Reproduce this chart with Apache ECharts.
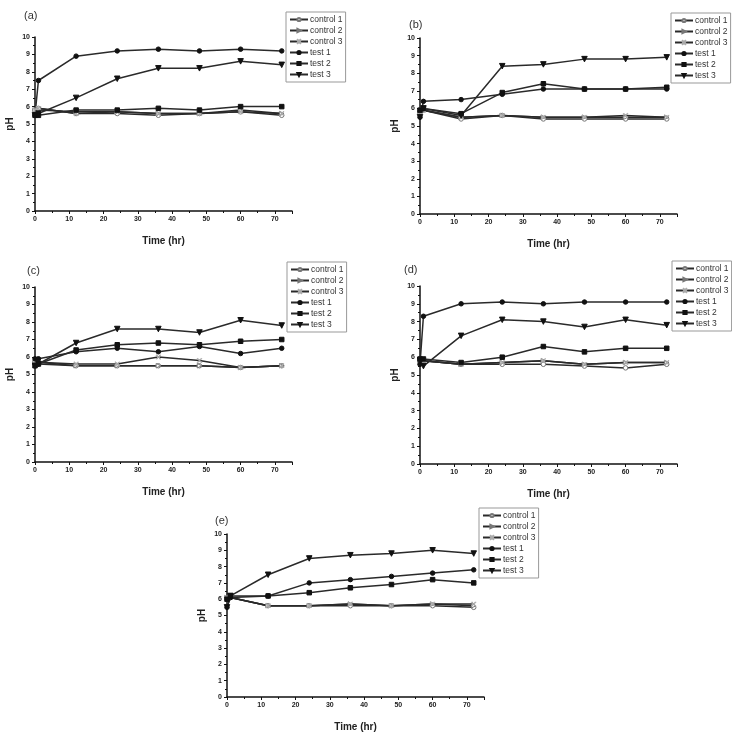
<!DOCTYPE html>
<html>
<head>
<meta charset="UTF-8">
<title>pH vs time</title>
<style>
html, body { margin: 0; padding: 0; width: 100%; height: 100%; background: #fff; }
#main { width: 732px; height: 733px; }
</style>
<script src="https://cdn.jsdelivr.net/npm/echarts@6/dist/echarts.min.js"></script>
</head>
<body>
<div id="main"></div>
<script type="text/javascript">
// sampling times (hr)
var timeHr = [0, 1, 12, 24, 36, 48, 60, 72];
var seriesNames = ['control 1', 'control 2', 'control 3', 'test 1', 'test 2', 'test 3'];
var panelLabels = ['(a)', '(b)', '(c)', '(d)', '(e)'];
var yTicks = [0, 1, 2, 3, 4, 5, 6, 7, 8, 9, 10];

// (a)
var a_control1 = [5.8, 5.9, 5.6, 5.6, 5.5, 5.6, 5.7, 5.5];
var a_control2 = [5.8, 5.8, 5.7, 5.7, 5.6, 5.6, 5.8, 5.6];
var a_control3 = [5.8, 5.9, 5.6, 5.7, 5.6, 5.6, 5.7, 5.6];
var a_test1 = [5.5, 7.5, 8.9, 9.2, 9.3, 9.2, 9.3, 9.2];
var a_test2 = [5.5, 5.5, 5.8, 5.8, 5.9, 5.8, 6.0, 6.0];
var a_test3 = [5.5, 5.6, 6.5, 7.6, 8.2, 8.2, 8.6, 8.4];
// (b)
var b_control1 = [5.8, 5.9, 5.4, 5.6, 5.4, 5.4, 5.4, 5.4];
var b_control2 = [5.8, 5.9, 5.5, 5.6, 5.5, 5.5, 5.5, 5.5];
var b_control3 = [5.8, 5.9, 5.5, 5.6, 5.5, 5.5, 5.6, 5.5];
var b_test1 = [5.5, 6.4, 6.5, 6.8, 7.1, 7.1, 7.1, 7.1];
var b_test2 = [5.9, 6.0, 5.7, 6.9, 7.4, 7.1, 7.1, 7.2];
var b_test3 = [5.5, 6.0, 5.6, 8.4, 8.5, 8.8, 8.8, 8.9];
// (c)
var c_control1 = [5.6, 5.6, 5.5, 5.5, 5.5, 5.5, 5.4, 5.5];
var c_control2 = [5.7, 5.7, 5.5, 5.5, 5.5, 5.5, 5.4, 5.5];
var c_control3 = [5.7, 5.7, 5.6, 5.6, 6.0, 5.8, 5.4, 5.5];
var c_test1 = [5.9, 5.9, 6.3, 6.5, 6.3, 6.6, 6.2, 6.5];
var c_test2 = [5.5, 5.6, 6.4, 6.7, 6.8, 6.7, 6.9, 7.0];
var c_test3 = [5.5, 5.6, 6.8, 7.6, 7.6, 7.4, 8.1, 7.8];
// (d)
var d_control1 = [5.8, 5.8, 5.6, 5.6, 5.6, 5.5, 5.4, 5.6];
var d_control2 = [5.8, 5.8, 5.6, 5.7, 5.8, 5.6, 5.7, 5.7];
var d_control3 = [5.8, 5.8, 5.6, 5.7, 5.8, 5.6, 5.7, 5.7];
var d_test1 = [5.6, 8.3, 9.0, 9.1, 9.0, 9.1, 9.1, 9.1];
var d_test2 = [5.9, 5.9, 5.7, 6.0, 6.6, 6.3, 6.5, 6.5];
var d_test3 = [5.8, 5.5, 7.2, 8.1, 8.0, 7.7, 8.1, 7.8];
// (e)
var e_control1 = [6.1, 6.1, 5.6, 5.6, 5.6, 5.6, 5.6, 5.5];
var e_control2 = [6.1, 6.1, 5.6, 5.6, 5.7, 5.6, 5.7, 5.6];
var e_control3 = [6.1, 6.1, 5.6, 5.6, 5.7, 5.6, 5.7, 5.7];
var e_test1 = [5.5, 6.1, 6.2, 7.0, 7.2, 7.4, 7.6, 7.8];
var e_test2 = [6.0, 6.2, 6.2, 6.4, 6.7, 6.9, 7.2, 7.0];
var e_test3 = [5.5, 6.2, 7.5, 8.5, 8.7, 8.8, 9.0, 8.8];

var panelData = [
    [a_control1, a_control2, a_control3, a_test1, a_test2, a_test3],
    [b_control1, b_control2, b_control3, b_test1, b_test2, b_test3],
    [c_control1, c_control2, c_control3, c_test1, c_test2, c_test3],
    [d_control1, d_control2, d_control3, d_test1, d_test2, d_test3],
    [e_control1, e_control2, e_control3, e_test1, e_test2, e_test3]
];

// layout of the five plots
var grids = [
    { left: 35, top: 37, width: 257, height: 174 },
    { left: 420, top: 38, width: 257, height: 176 },
    { left: 35, top: 287, width: 257, height: 175 },
    { left: 420, top: 286, width: 257, height: 178 },
    { left: 227, top: 534, width: 257, height: 178 }
];
var legendPos = [
    { left: 286, top: 12 },
    { left: 671, top: 13 },
    { left: 287, top: 262 },
    { left: 672, top: 261 },
    { left: 479, top: 508 }
];
var labelPos = [
    { left: 24, top: 10 },
    { left: 409, top: 19 },
    { left: 27, top: 265 },
    { left: 404, top: 264 },
    { left: 215, top: 515 }
];

var xMark = 'path://M1,0L5,4L9,0L10,1L6,5L10,9L9,10L5,6L1,10L0,9L4,5L0,1Z';
var markers = [
    { symbol: 'circle', size: 4.5, rotate: 0, color: '#fff', border: '#777' },
    { symbol: 'triangle', size: 4.5, rotate: -90, color: '#fff', border: '#777' },
    { symbol: xMark, size: 4.5, rotate: 0, color: '#aaa', border: '#aaa' },
    { symbol: 'circle', size: 4.5, rotate: 0, color: '#111', border: '#111' },
    { symbol: 'rect', size: 4.5, rotate: 0, color: '#111', border: '#111' },
    { symbol: 'triangle', size: 5.5, rotate: 180, color: '#111', border: '#111' }
];

var axisFont = 'Liberation Sans, Arial, sans-serif';
var option = {
    animation: false,
    backgroundColor: '#fff',
    title: [],
    legend: [],
    grid: [],
    xAxis: [],
    yAxis: [],
    series: []
};

for (var p = 0; p < 5; p++) {
    option.title.push({
        text: panelLabels[p],
        left: labelPos[p].left,
        top: labelPos[p].top,
        padding: 0,
        textStyle: { fontSize: 11, fontWeight: 'normal', color: '#333', fontFamily: axisFont }
    });
    option.grid.push(grids[p]);
    option.legend.push({
        data: seriesNames,
        orient: 'vertical',
        left: legendPos[p].left,
        top: legendPos[p].top,
        itemWidth: 18,
        itemHeight: 4,
        itemGap: 2,
        padding: [3, 3, 3, 3],
        borderColor: '#999',
        borderWidth: 1,
        backgroundColor: '#fff',
        selectedMode: false,
        textStyle: { fontSize: 8.5, lineHeight: 8, color: '#333', fontFamily: axisFont, padding: [0, 0, 0, -3] }
    });
    option.xAxis.push({
        type: 'value',
        gridIndex: p,
        min: 0,
        max: 75,
        interval: 10,
        name: 'Time (hr)',
        nameLocation: 'middle',
        nameGap: 25,
        nameTextStyle: { fontSize: 10, fontWeight: 'bold', color: '#222', fontFamily: axisFont },
        axisLine: { onZero: false, lineStyle: { color: '#111', width: 1.5 } },
        axisTick: { show: true, inside: false, length: 3, lineStyle: { color: '#111', width: 1 } },
        minorTick: { show: true, splitNumber: 2, length: 2, lineStyle: { color: '#111' } },
        axisLabel: {
            fontSize: 7, fontWeight: 'bold', color: '#222', margin: 5, fontFamily: axisFont,
            formatter: function (v) { return v <= 70 ? v : ''; }
        },
        splitLine: { show: false }
    });
    option.yAxis.push({
        type: 'value',
        gridIndex: p,
        min: yTicks[0],
        max: yTicks[yTicks.length - 1],
        interval: 1,
        name: 'pH',
        nameLocation: 'middle',
        nameGap: 20,
        nameTextStyle: { fontSize: 10, fontWeight: 'bold', color: '#222', fontFamily: axisFont },
        axisLine: { show: true, lineStyle: { color: '#111', width: 1.5 } },
        axisTick: { show: true, inside: false, length: 3, lineStyle: { color: '#111', width: 1 } },
        minorTick: { show: true, splitNumber: 2, length: 2, lineStyle: { color: '#111' } },
        axisLabel: { fontSize: 7, fontWeight: 'bold', color: '#222', margin: 5, fontFamily: axisFont },
        splitLine: { show: false }
    });
    for (var s = 0; s < 6; s++) {
        var m = markers[s];
        var vals = panelData[p][s];
        var pts = [];
        for (var i = 0; i < timeHr.length; i++) {
            pts.push([timeHr[i], vals[i]]);
        }
        option.series.push({
            name: seriesNames[s],
            type: 'line',
            xAxisIndex: p,
            yAxisIndex: p,
            data: pts,
            symbol: m.symbol,
            symbolSize: m.size,
            symbolRotate: m.rotate,
            showAllSymbol: true,
            lineStyle: { color: '#2a2a2a', width: 1.5 },
            itemStyle: { color: m.color, borderColor: m.border, borderWidth: 1 },
            emphasis: { disabled: true }
        });
    }
}

var chart = echarts.init(document.getElementById('main'));
chart.setOption(option);
</script>
</body>
</html>
